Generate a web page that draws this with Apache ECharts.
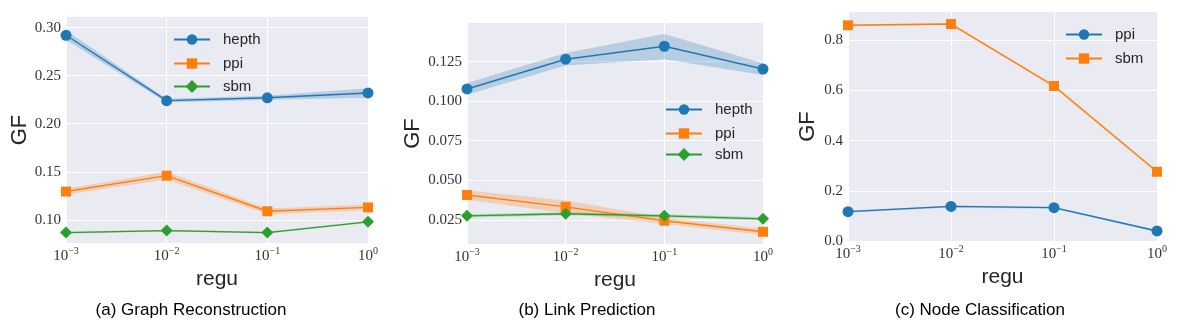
<!DOCTYPE html>
<html><head><meta charset="utf-8">
<script src="https://cdn.jsdelivr.net/npm/echarts@6/dist/echarts.min.js"></script>
<style>html,body{margin:0;padding:0;background:#fff}#c{width:1179px;height:326px}</style>
</head><body><div id="c"></div>
<script>
// ---- data ----
const regu = [0.001, 0.01, 0.1, 1];
const captions = ['(a) Graph Reconstruction', '(b) Link Prediction', '(c) Node Classification'];

// (a) Graph Reconstruction
const aHepth = [0.292, 0.224, 0.227, 0.232];
const aHepthLow = [0.287, 0.222, 0.225, 0.227];
const aHepthHigh = [0.297, 0.226, 0.229, 0.237];
const aPpi = [0.1295, 0.146, 0.109, 0.113];
const aPpiLow = [0.1265, 0.142, 0.106, 0.110];
const aPpiHigh = [0.1325, 0.150, 0.112, 0.116];
const aSbm = [0.0868, 0.0889, 0.0868, 0.098];
const aSbmLow = [0.0858, 0.0879, 0.0858, 0.097];
const aSbmHigh = [0.0878, 0.0899, 0.0878, 0.099];

// (b) Link Prediction
const bHepth = [0.1077, 0.1265, 0.1347, 0.1203];
const bHepthLow = [0.1040, 0.1225, 0.1265, 0.1165];
const bHepthHigh = [0.1115, 0.1305, 0.1425, 0.1240];
const bPpi = [0.0407, 0.0332, 0.0244, 0.0174];
const bPpiLow = [0.0377, 0.0292, 0.0224, 0.0154];
const bPpiHigh = [0.0437, 0.0372, 0.0264, 0.0194];
const bSbm = [0.0275, 0.0288, 0.0275, 0.0256];
const bSbmLow = [0.0265, 0.0278, 0.0265, 0.0246];
const bSbmHigh = [0.0285, 0.0298, 0.0285, 0.0266];

// (c) Node Classification
const cPpi = [0.117, 0.138, 0.133, 0.040];
const cPpiLow = [0.113, 0.134, 0.129, 0.036];
const cPpiHigh = [0.121, 0.142, 0.137, 0.044];
const cSbm = [0.860, 0.865, 0.618, 0.276];
const cSbmLow = [0.856, 0.861, 0.612, 0.271];
const cSbmHigh = [0.864, 0.869, 0.624, 0.281];

const yTickStep = [0.05, 0.025, 0.2];
const yDecimals = [2, 3, 1];
const yExtent = [[0.076, 0.311], [0.0097, 0.1494], [0, 0.913]];

// ---- style ----
const BLUE = '#1f77b4', ORANGE = '#ff7f0e', GREEN = '#2ca02c';
const grids = [
  {left: 66, width: 302, top: 17, height: 226},
  {left: 467, width: 296, top: 23, height: 221},
  {left: 848, width: 309, top: 12, height: 229}
];
const SERIF = 'Liberation Serif';
const SANS = 'Liberation Sans';

function pairs(arr) { return regu.map((x, i) => [x, arr[i]]); }

function makeSeries(gi, name, mean, low, high, color, symbol, size) {
  return [
    {type: 'custom', name: 'band' + gi + name, xAxisIndex: gi, yAxisIndex: gi,
     data: regu.map((x, i) => [x, low[i], high[i]]),
     encode: {x: 0, y: [1, 2]}, silent: true, z: 1, animation: false,
     renderItem: function (params, api) {
       if (params.dataIndex !== 0) return null;
       const pts = [];
       for (let i = 0; i < regu.length; i++) pts.push(api.coord([regu[i], high[i]]));
       for (let i = regu.length - 1; i >= 0; i--) pts.push(api.coord([regu[i], low[i]]));
       return {type: 'polygon', shape: {points: pts}, style: {fill: color, opacity: 0.25}};
     }},
    {type: 'line', name: name, xAxisIndex: gi, yAxisIndex: gi, data: pairs(mean),
     symbol: symbol, symbolSize: size, itemStyle: {color: color},
     lineStyle: {color: color, width: 1.4}, z: 3, animation: false}
  ];
}

function supLabel(v) {
  const e = Math.round(Math.log10(v));
  return '{b|10}{s|' + String(e).replace('-', '\u2212') + '}';
}

const xAxes = grids.map((g, i) => ({
  gridIndex: i, type: 'log', logBase: 10, min: 0.001, max: 1,
  axisLine: {show: false}, axisTick: {show: false},
  splitLine: {show: true, lineStyle: {color: '#ffffff', width: 1}},
  axisLabel: {formatter: supLabel, margin: 3, color: '#333', showMinLabel: true, showMaxLabel: true,
    rich: {b: {fontFamily: SERIF, fontSize: 15, color: '#333', verticalAlign: 'bottom', lineHeight: 18},
           s: {fontFamily: SERIF, fontSize: 10, color: '#333', verticalAlign: 'top', lineHeight: 18}}},
  name: 'regu', nameLocation: 'middle', nameGap: 22,
  nameTextStyle: {fontFamily: SANS, fontSize: 21, color: '#262626'}
}));

const yNameGap = [35, 43, 29];
const yAxes = grids.map((g, i) => ({
  gridIndex: i, type: 'value', min: yExtent[i][0], max: yExtent[i][1],
  minInterval: yTickStep[i], maxInterval: yTickStep[i],
  axisLine: {show: false}, axisTick: {show: false},
  splitLine: {show: true, showMinLine: i === 2, showMaxLine: false, lineStyle: {color: '#ffffff', width: 1}},
  axisLabel: {showMinLabel: i === 2, showMaxLabel: false, margin: 5,
    formatter: v => v.toFixed(yDecimals[i]), fontFamily: SERIF, fontSize: 15, color: '#333'},
  name: 'GF', nameLocation: 'middle', nameGap: yNameGap[i],
  nameTextStyle: {fontFamily: SANS, fontSize: 22, color: '#262626'}
}));

const series = [].concat(
  makeSeries(0, 'hepth', aHepth, aHepthLow, aHepthHigh, BLUE, 'circle', 11),
  makeSeries(0, 'ppi', aPpi, aPpiLow, aPpiHigh, ORANGE, 'rect', 10),
  makeSeries(0, 'sbm', aSbm, aSbmLow, aSbmHigh, GREEN, 'diamond', 12),
  makeSeries(1, 'hepth ', bHepth, bHepthLow, bHepthHigh, BLUE, 'circle', 11),
  makeSeries(1, 'ppi ', bPpi, bPpiLow, bPpiHigh, ORANGE, 'rect', 10),
  makeSeries(1, 'sbm ', bSbm, bSbmLow, bSbmHigh, GREEN, 'diamond', 12),
  makeSeries(2, 'ppi  ', cPpi, cPpiLow, cPpiHigh, BLUE, 'circle', 11),
  makeSeries(2, 'sbm  ', cSbm, cSbmLow, cSbmHigh, ORANGE, 'rect', 10)
);

function legend(left, top, data, h) {
  h = h || 13;
  return {orient: 'vertical', left: left, top: top, padding: 0, itemWidth: 36, itemHeight: h, itemGap: 9,
    data: data, selectedMode: false, formatter: n => n.trim(),
    textStyle: {fontFamily: SANS, fontSize: 15, color: '#262626', padding: [0, 0, 0, 8]}};
}

const option = {
  backgroundColor: '#ffffff',
  animation: false,
  grid: grids.map(g => Object.assign({show: true, backgroundColor: '#EAEAF2', borderWidth: 0, containLabel: false}, g)),
  xAxis: xAxes,
  yAxis: yAxes,
  legend: [
    legend(173, 32, ['hepth', 'ppi']),
    legend(173, 79, ['sbm'], 16),
    legend(665, 102, ['hepth ', 'ppi ']),
    legend(665, 147, ['sbm '], 16),
    legend(1065, 27, ['ppi  ', 'sbm  '])
  ],
  graphic: captions.map((t, i) => ({type: 'text', x: [191, 587, 980][i], y: 310,
    style: {text: t, textAlign: 'center', textVerticalAlign: 'middle', fontFamily: 'Liberation Sans', fontSize: 17, fill: '#000'}})),
  series: series
};
const chart = echarts.init(document.getElementById('c'), null, {renderer: 'canvas'});
chart.setOption(option);
</script></body></html>
